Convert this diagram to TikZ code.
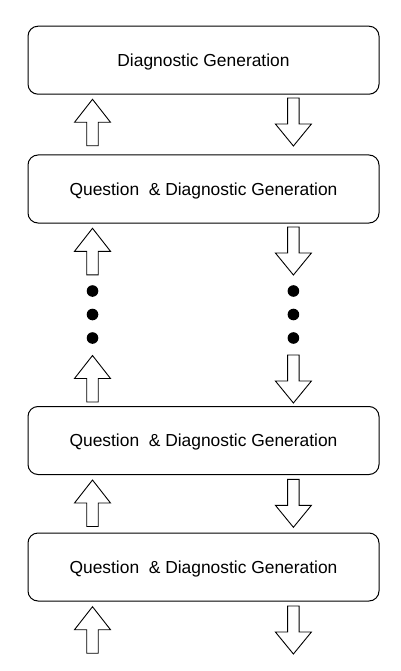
\documentclass[tikz,border=0pt]{standalone}
\usepackage{fontspec}
\setmainfont{Liberation Sans}
\usetikzlibrary{calc}
\tikzset{
	genBox/.style={draw, line width=1pt, rounded corners=10pt, minimum width=351pt, minimum height=68pt, inner sep=0pt, text depth=0pt, font=\fontsize{17.4}{20}\selectfont},
	blockArrow/.style={draw, line width=0.9pt, fill=white}
}
% block arrows, #1 is the tip
\newcommand{\drawArrowUp}[1]{
	\draw[blockArrow] (#1) -- ++(18,23) -- ++(-12.25,0) -- ++(0,23.5) -- ++(-11.5,0) -- ++(0,-23.5) -- ++(-12.25,0) -- cycle;
}
\newcommand{\drawArrowDown}[1]{
	\draw[blockArrow] (#1) -- ++(18,-22) -- ++(-12.25,0) -- ++(0,-26) -- ++(-11.5,0) -- ++(0,26) -- ++(-12.25,0) -- cycle;
}
\newcommand{\drawDots}[1]{
	\foreach \dy in {0,23.5,47} {
		\fill ($(#1)+(0,\dy)$) circle (5.8pt);
	}
}
\begin{document}
\begin{tikzpicture}[x=1pt,y=-1pt]
		\useasboundingbox (0,0) rectangle (400,671);

		\node[genBox] (G1) at (203.5,60.2) {Diagnostic Generation};
		\node[genBox] (G2) at (203.5,189) {Question\ \ \& Diagnostic Generation};
		\node[genBox] (G3) at (203.5,440.5) {Question\ \ \& Diagnostic Generation};
		\node[genBox] (G4) at (203.5,567) {Question\ \ \& Diagnostic Generation};

		\coordinate (U1) at (92.5,99.3);
		\coordinate (U2) at (92.5,228.3);
		\coordinate (U3) at (92.5,355.5);
		\coordinate (U4) at (92.5,480);
		\coordinate (U5) at (92.5,606.7);
		\coordinate (D1) at (293.4,146);
		\coordinate (D2) at (293.4,275);
		\coordinate (D3) at (293.4,403);
		\coordinate (D4) at (293.4,527.3);
		\coordinate (D5) at (293.4,654);
		\coordinate (L) at (92.5,291);
		\coordinate (R) at (293.4,291);

		\foreach \n in {1,...,5} {
			\drawArrowUp{U\n}
			\drawArrowDown{D\n}
		}
		\drawDots{L}
		\drawDots{R}
	\end{tikzpicture}
\end{document}
